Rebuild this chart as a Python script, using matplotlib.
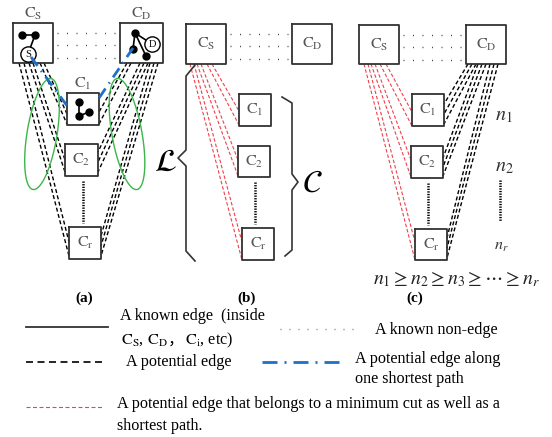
import numpy as np
import matplotlib
matplotlib.use("Agg")
import matplotlib.pyplot as plt

plt.rcParams['font.family'] = ['Liberation Serif', 'DejaVu Serif']
plt.rcParams['mathtext.fontset'] = 'stix'
plt.rcParams['lines.scale_dashes'] = False

PX = 0.72  # points per pixel at dpi 100

# ---- layout of the three panels (pixel coords, y down) ----
panel_titles = ['(a)', '(b)', '(c)']
title_x = [84, 247, 415]
title_y = 298

# boxes: x0, y0, x1, y1
boxes_a = {'S': (13, 23, 53, 63), 'D': (120, 23, 163, 63),
           '1': (67, 93, 99, 125), '2': (65, 144, 98, 176), 'r': (69, 227, 101, 259)}
boxes_b = {'S': (186, 24, 226, 64), 'D': (292, 24, 332, 64),
           '1': (239, 94, 271, 126), '2': (238, 146, 270, 177), 'r': (242, 228, 274, 260)}
boxes_c = {'S': (359, 25, 399, 64), 'D': (466, 25, 506, 64),
           '1': (412, 94, 444, 126), '2': (411, 146, 443, 178), 'r': (415, 229, 447, 260)}

# bundles of potential edges: (start xs, start y, end x, end ys)
black_a = [([19, 24], 63, 69, [256, 242]),
           ([29, 33], 63, 65, [172, 160]),
           ([40, 44], 63, 67, [124, 114]),
           ([127, 131], 63, 99, [112, 124]),
           ([140, 144, 148], 63, 98, [152, 162, 172]),
           ([150, 154, 158], 63, 101, [236, 246, 256])]
black_c = [([468, 472, 476], 64, 444, [104, 114, 124]),
           ([478, 482, 486], 64, 443, [158, 167, 176]),
           ([490, 494, 498], 64, 447, [238, 248, 258])]
red_b = [([207, 212], 64, 239, [125, 111]),
         ([197, 201], 64, 238, [176, 160]),
         ([190, 194], 64, 242, [260, 242])]
red_c = [([380, 386], 64, 412, [126, 112]),
         ([371, 375], 64, 411, [177, 160]),
         ([364, 368], 64, 415, [260, 242])]
blue_a = [((31, 57), (68, 107)), ((133, 48), (97, 101))]

# small graphs inside boxes of panel (a)
nodes_S = [(22, 35), (35, 35)]
edges_S = [((22, 35), (35, 35)), ((35, 35), (28, 54))]
nodes_D = [(135, 33), (133, 49), (146, 56)]
edges_D = [((135, 33), (133, 49)), ((135, 33), (146, 56)), ((135, 33), (152, 44))]
nodes_1 = [(79, 102), (79, 116), (89, 112)]
edges_1 = [((79, 102), (79, 116)), ((79, 116), (89, 112))]

fig = plt.figure(figsize=(5.52, 4.37), dpi=100)
ax = fig.add_axes([0, 0, 1, 1])
ax.set_xlim(0, 552)
ax.set_ylim(437, 0)
ax.axis('off')

GRAY = '#555555'
BLACK_DASH = (0, (4 * PX, 2.5 * PX))
RED_DASH = (0, (3.5 * PX, 2 * PX))


def draw_box(b, label=None, inside=True, size=11.5):
    x0, y0, x1, y1 = b
    ax.plot([x0, x1, x1, x0, x0], [y0, y0, y1, y1, y0], color='#333333', lw=1.3)
    if label:
        if inside:
            ax.text((x0 + x1) / 2, (y0 + y1) / 2, label, ha='center', va='center',
                    fontsize=size, color=GRAY)
        else:
            ax.text((x0 + x1) / 2, y0 - 9, label, ha='center', va='center',
                    fontsize=size, color=GRAY)


def lab(s):
    return r'$\mathrm{C}_{\mathrm{%s}}$' % s


def draw_bundles(bundles, color, ls, lw):
    for xs, sy, ex, eys in bundles:
        for sx, ey in zip(xs, eys):
            ax.plot([sx, ex], [sy, ey], color=color, ls=ls, lw=lw)


def draw_panel(boxes, graph_labels_outside):
    for k, b in boxes.items():
        outside = graph_labels_outside and k in ('S', 'D', '1')
        draw_box(b, lab(k), inside=not outside)
    s, d = boxes['S'], boxes['D']
    for yy in (s[1] + 10, s[1] + 22, s[1] + 35):
        ax.plot([s[2] + 4, d[0] - 4], [yy, yy], color='#444444', lw=1.0,
                ls=(0, (1 * PX, 8.5 * PX)))
    c2, cr = boxes['2'], boxes['r']
    xm = (c2[0] + c2[2]) / 2 + 1
    ax.plot([xm, xm], [c2[3] + 5, cr[1] - 4], color='black', lw=1.8,
            ls=(0, (1.3 * PX, 1.3 * PX)))


def ellipse(cx, cy, top, bottom, width):
    t = np.linspace(0, 2 * np.pi, 200)
    v = np.array(top, float) - np.array(bottom, float)
    L = np.hypot(*v)
    v = v / L
    u = np.array([-v[1], v[0]])
    xs = cx + 0.5 * L * np.cos(t) * v[0] + 0.5 * width * np.sin(t) * u[0]
    ys = cy + 0.5 * L * np.cos(t) * v[1] + 0.5 * width * np.sin(t) * u[1]
    ax.plot(xs, ys, color='#3cb54a', lw=1.0)


# ---- panel (a) ----
draw_bundles(black_a, 'black', BLACK_DASH, 1.0)
ellipse(42, 134, (51, 79), (33, 190), 30)
ellipse(127, 134, (117, 79), (137, 190), 30)
draw_panel(boxes_a, True)
for (p, q) in edges_S + edges_D + edges_1:
    ax.plot([p[0], q[0]], [p[1], q[1]], color='black', lw=1.2)
for x, y in nodes_S + nodes_D + nodes_1:
    ax.plot(x, y, 'o', color='black', ms=5)
for (x, y, s) in [(28, 54, 'S'), (152, 44, 'D')]:
    ax.plot(x, y, 'o', mfc='white', mec='black', ms=11, mew=1.0)
    ax.text(x, y + 0.5, s, ha='center', va='center', fontsize=7.5)
for p, q in blue_a:
    ax.plot([p[0], q[0]], [p[1], q[1]], color='#1f70c8', lw=2.0,
            ls=(0, (11 * PX, 6 * PX, 1.5 * PX, 6 * PX)))

# ---- panel (b) ----
draw_bundles(red_b, '#f0404a', RED_DASH, 0.8)
draw_panel(boxes_b, False)
brace_L_x = [195, 186, 186, 178, 186, 186, 195]
brace_L_y = [65, 76, 150, 158, 166, 251, 261]
ax.plot(brace_L_x, brace_L_y, color='#333333', lw=1.2)
brace_C_x = [282, 292, 292, 298, 292, 292, 285]
brace_C_y = [97, 103, 174, 182, 190, 250, 256]
ax.plot(brace_C_x, brace_C_y, color='#333333', lw=1.2)
ax.text(165, 163, r'$\mathcal{L}$', ha='center', va='center', fontsize=23)
ax.text(312, 184, r'$\mathcal{C}$', ha='center', va='center', fontsize=23)

# ---- panel (c) ----
draw_bundles(red_c, '#f0404a', RED_DASH, 0.8)
draw_bundles(black_c, 'black', BLACK_DASH, 1.0)
draw_panel(boxes_c, False)
ax.text(504, 116, r'$n_1$', ha='center', va='center', fontsize=14.5, color='#333333')
ax.text(504, 167, r'$n_2$', ha='center', va='center', fontsize=14.5, color='#333333')
ax.text(501, 246, r'$n_r$', ha='center', va='center', fontsize=11.5, color='#333333')
ax.plot([500, 500], [180, 221], color='black', lw=1.8, ls=(0, (1.3 * PX, 1.3 * PX)))
ax.text(456, 279, r'$n_1 \geq n_2 \geq n_3 \geq \cdots \geq n_r$', ha='center',
        va='center', fontsize=14.3, color='#222222')

for t, x in zip(panel_titles, title_x):
    ax.text(x, title_y, t, ha='center', va='center', fontsize=11, fontweight='bold')

# ---- legend ----
FS = 11.6
ax.plot([26, 108], [327, 327], color='#333333', lw=1.3)
ax.text(120, 316, 'A known edge  (inside', va='center', fontsize=FS)
r = fig.canvas.get_renderer()
t1 = ax.text(121, 340, r'$\mathrm{C_S}$, $\mathrm{C_D}$', va='center', fontsize=FS)
bb = t1.get_window_extent(r).transformed(ax.transData.inverted())
t2 = ax.text(bb.x1 + 0.5, 340, '，', va='center', fontsize=FS,
             family=['Noto Sans CJK SC', 'DejaVu Sans'])
bb = t2.get_window_extent(r).transformed(ax.transData.inverted())
ax.text(bb.x1 + 1, 340, r'$\mathrm{C_i}$, etc)', va='center', fontsize=FS)

ax.plot([280, 358], [329, 329], color='#777777', lw=1.0, ls=(0, (1 * PX, 8 * PX)))
ax.text(375, 330, 'A known non-edge', va='center', fontsize=FS)

ax.plot([26, 106], [362, 362], color='black', lw=1.2, ls=(0, (7 * PX, 4.5 * PX)))
ax.text(126, 362, 'A potential edge', va='center', fontsize=FS)

ax.plot([262, 340], [362, 362], color='#1f70c8', lw=2.0,
        ls=(0, (15 * PX, 7 * PX, 2 * PX, 7 * PX)))
ax.text(355, 359, 'A potential edge along', va='center', fontsize=FS)
ax.text(355, 379, 'one shortest path', va='center', fontsize=FS)

ax.plot([26, 102], [407, 407], color='#f0404a', lw=0.8, ls=(0, (4 * PX, 2.5 * PX)))
ax.text(117, 404, 'A potential edge that belongs to a minimum cut as well as a',
        va='center', fontsize=FS)
ax.text(117, 426, 'shortest path.', va='center', fontsize=FS)

fig.savefig('out.png', dpi=100)
